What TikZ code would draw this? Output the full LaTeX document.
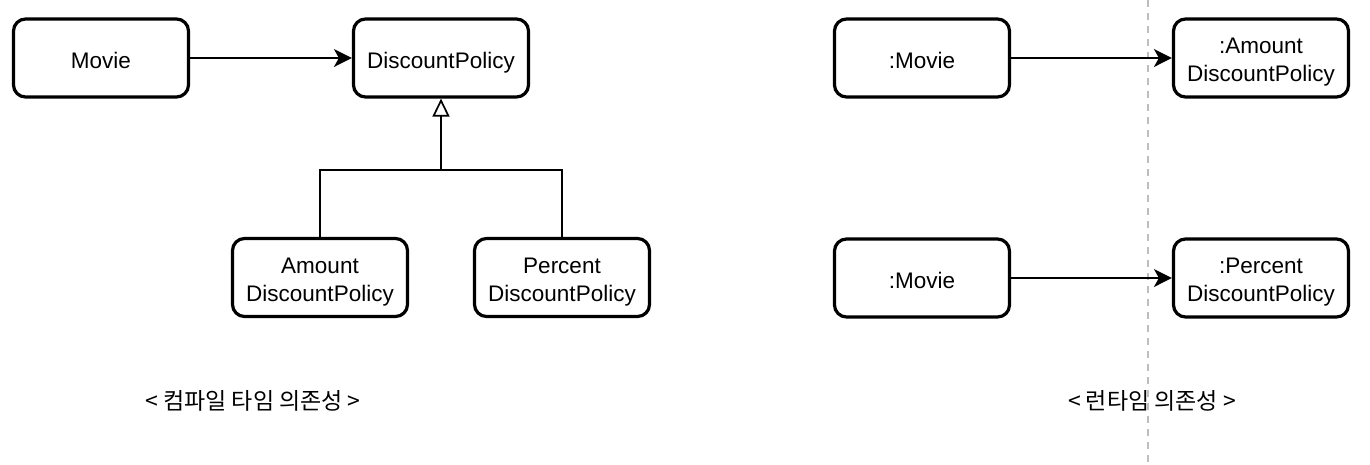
\documentclass[tikz,border=0pt]{standalone}
\usepackage{fontspec}
\setmainfont{Liberation Sans}
\newfontfamily\krfont{Noto Sans CJK KR}
\usetikzlibrary{arrows.meta}
\begin{document}
\begin{tikzpicture}[x=1pt,y=-1pt,
  box/.style={draw=black, line width=3.2pt, rounded corners=12pt, minimum width=175pt, minimum height=78pt, inner sep=0pt},
  boxtext/.style={align=center, font=\fontsize{22.5}{28}\selectfont, yshift=-4.5pt, inner sep=0pt},
  onetext/.style={boxtext, yshift=-3pt, text height=0.75em, text depth=0.25em},
  dep/.style={line width=1.7pt, -{Stealth[length=18pt,width=18pt,inset=5pt]}},
  inh/.style={line width=1.7pt},
  caption/.style={font=\krfont\fontsize{23}{27}\selectfont}]
\useasboundingbox (0,0) rectangle (1370,464);
\draw[line width=2pt, draw={rgb,255:red,190;green,190;blue,190}, dash pattern=on 7pt off 6pt] (1148,0) -- (1148,464);
\node[box, label={[onetext]center:Movie}] (movie) at (101,58) {};
\node[box, label={[onetext]center:DiscountPolicy}] (dp) at (441,58) {};
\node[box, label={[boxtext]center:Amount\\DiscountPolicy}] (amount) at (320,277.5) {};
\node[box, label={[boxtext]center:Percent\\DiscountPolicy}] (percent) at (562,277.5) {};
\node[box, label={[onetext]center::Movie}] (rm1) at (922,58) {};
\node[box, label={[boxtext]center::Amount\\DiscountPolicy}] (ra) at (1261,58) {};
\node[box, label={[onetext]center::Movie}] (rm2) at (922,278) {};
\node[box, label={[boxtext]center::Percent\\DiscountPolicy}] (rp) at (1261,278) {};
\draw[dep] (movie) -- (dp);
\draw[dep] (rm1) -- (ra);
\draw[dep] (rm2) -- (rp);
\coordinate (join) at (441,170);
\draw[inh] (amount.north) |- (join) -| (percent.north);
\draw[inh, -{Triangle[open,length=18pt,width=17pt,fill=white]}] (join) -- (dp.south);
\node[caption] (c1) at (253,401) {< 컴파일 타임 의존성 >};
\node[caption] (c2) at (1152,401) {< 런타임 의존성 >};
\end{tikzpicture}
\end{document}
